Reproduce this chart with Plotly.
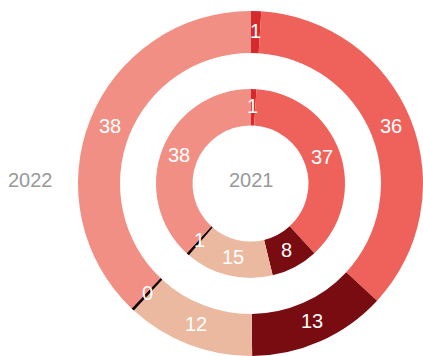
import math
import plotly.graph_objects as go

# Data (shares, clockwise from 12 o'clock)
slice_names = ["A", "B", "C", "D", "E", "F"]
outer_values = [1, 36, 13, 12, 0.3, 38]          # 2022
outer_text = ["1", "36", "13", "12", "0", "38"]
inner_values = [1, 37, 8, 15, 0.5, 38]           # 2021
inner_text = ["1", "37", "8", "15", "1", "38"]
slice_colors = ["#d5292d", "#ef625b", "#780c10", "#ebb9a0", "#1a0505", "#f28f84"]
ring_titles = ["2022", "2021"]

W, H = 423, 356
cx, cy = 250.5, 172.5      # px, from left / bottom
R_out, r_out_hole = 172.5, 130.5
R_in, r_in_hole = 94.5, 58.0

font_family = "Liberation Sans, Arial, Helvetica, sans-serif"
label_font = dict(color="white", size=20, family=font_family)
title_font = dict(color="#999999", size=20, family=font_family)

fig = go.Figure()
for vals, R, rh in [(outer_values, R_out, r_out_hole), (inner_values, R_in, r_in_hole)]:
    fig.add_trace(go.Pie(
        labels=slice_names, values=vals, textinfo="none",
        sort=False, direction="clockwise", rotation=0, hole=rh / R,
        marker=dict(colors=slice_colors, line=dict(width=0)),
        domain=dict(x=[max(0, (cx - R) / W), min(1, (cx + R) / W)],
                    y=[(cy - R) / H, (cy + R) / H]),
        showlegend=False, hoverinfo="skip",
    ))

# Slice labels at mid radius / mid angle of each slice
for vals, texts, R, rh in [(outer_values, outer_text, R_out, r_out_hole),
                           (inner_values, inner_text, R_in, r_in_hole)]:
    total = sum(vals)
    cum = 0.0
    rm = (R + rh) / 2
    for v, t in zip(vals, texts):
        mid = (cum + v / 2) / total * 2 * math.pi
        cum += v
        fig.add_annotation(text=t, x=(cx + rm * math.sin(mid)) / W,
                           y=(cy + rm * math.cos(mid) + 1) / H,
                           xref="paper", yref="paper", showarrow=False,
                           xanchor="center", yanchor="middle", font=label_font)

fig.add_annotation(text=ring_titles[0], x=30 / W, y=(H - 180.5 + 1) / H,
                   xref="paper", yref="paper", showarrow=False,
                   xanchor="center", yanchor="middle", font=title_font)
fig.add_annotation(text=ring_titles[1], x=251 / W, y=(H - 180.5 + 1) / H,
                   xref="paper", yref="paper", showarrow=False,
                   xanchor="center", yanchor="middle", font=title_font)

fig.update_layout(
    width=W, height=H, margin=dict(l=0, r=0, t=0, b=0),
    paper_bgcolor="white", plot_bgcolor="white",
)
fig.write_html("out.html")
